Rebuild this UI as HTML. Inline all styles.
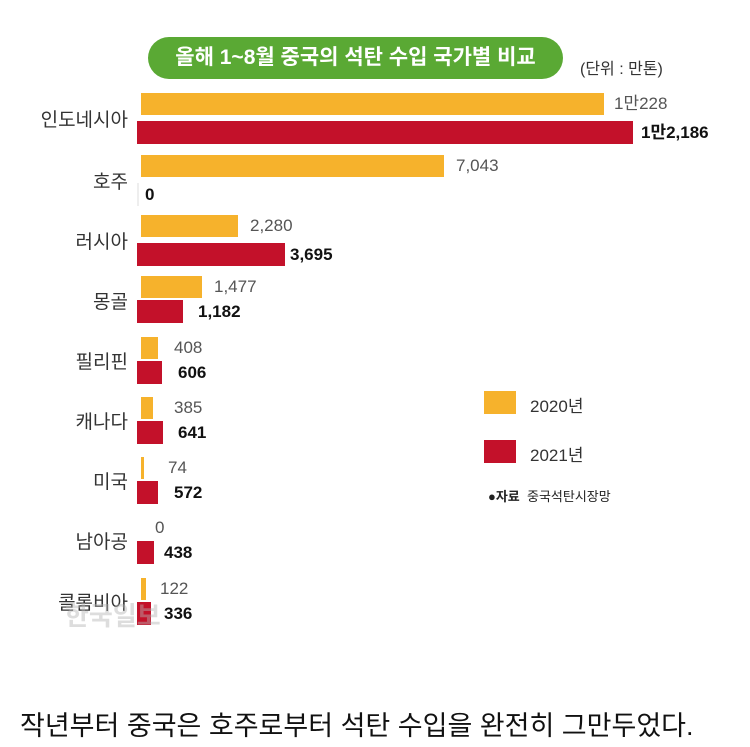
<!DOCTYPE html>
<html><head><meta charset="utf-8"><style>
body{margin:0;width:750px;height:747px;background:#fff;position:relative;overflow:hidden;font-family:"Liberation Sans","Noto Sans CJK KR",sans-serif}
.a{position:absolute;white-space:nowrap}
.o{position:absolute;background:#f6b22c;height:22px;left:141px}
.r{position:absolute;background:#c3112a;height:23px;left:137px}
.lo{position:absolute;color:#555;font-size:17px;line-height:22px}
.lr{position:absolute;color:#111;font-size:17px;font-weight:bold;line-height:23px}
.c{position:absolute;right:622px;font-size:19px;color:#333;text-align:right;white-space:nowrap}
</style></head><body>
<div class="a" style="left:148px;top:37px;width:415px;height:42px;border-radius:21px;background:#5aa934;color:#fff;font-weight:bold;font-size:21px;line-height:42px;text-align:center">올해 1~8월 중국의 석탄 수입 국가별 비교</div>
<div class="a" style="left:580px;top:55px;font-size:16px;color:#333">(단위 : 만톤)</div>

<div class="o" style="top:93px;width:463px"></div><div class="lo" style="left:614px;top:93px">1만228</div>
<div class="r" style="top:121px;width:496px"></div><div class="lr" style="left:641px;top:121px">1만2,186</div>
<div class="c" style="top:105px">인도네시아</div>

<div class="o" style="top:155px;width:303px"></div><div class="lo" style="left:456px;top:155px">7,043</div>
<div class="lr" style="left:145px;top:183px">0</div>
<div class="r" style="top:183px;width:2px;background:#eee"></div>
<div class="c" style="top:167px">호주</div>

<div class="o" style="top:215px;width:97px"></div><div class="lo" style="left:250px;top:215px">2,280</div>
<div class="r" style="top:243px;width:148px"></div><div class="lr" style="left:290px;top:243px">3,695</div>
<div class="c" style="top:227px">러시아</div>

<div class="o" style="top:276px;width:61px"></div><div class="lo" style="left:214px;top:276px">1,477</div>
<div class="r" style="top:300px;width:46px"></div><div class="lr" style="left:198px;top:300px">1,182</div>
<div class="c" style="top:287px">몽골</div>

<div class="o" style="top:337px;width:17px"></div><div class="lo" style="left:174px;top:337px">408</div>
<div class="r" style="top:361px;width:25px"></div><div class="lr" style="left:178px;top:361px">606</div>
<div class="c" style="top:347px">필리핀</div>

<div class="o" style="top:397px;width:12px"></div><div class="lo" style="left:174px;top:397px">385</div>
<div class="r" style="top:421px;width:26px"></div><div class="lr" style="left:178px;top:421px">641</div>
<div class="c" style="top:407px">캐나다</div>

<div class="o" style="top:457px;width:3px"></div><div class="lo" style="left:168px;top:457px">74</div>
<div class="r" style="top:481px;width:21px"></div><div class="lr" style="left:174px;top:481px">572</div>
<div class="c" style="top:467px">미국</div>

<div class="lo" style="left:155px;top:517px">0</div>
<div class="r" style="top:541px;width:17px"></div><div class="lr" style="left:164px;top:541px">438</div>
<div class="c" style="top:527px">남아공</div>

<div class="o" style="top:578px;width:5px"></div><div class="lo" style="left:160px;top:578px">122</div>
<div class="r" style="top:602px;width:14px"></div><div class="lr" style="left:164px;top:602px">336</div>
<div class="c" style="top:588px">콜롬비아</div>

<div class="a" style="left:65px;top:596px;font-size:26px;font-weight:bold;color:rgba(180,180,180,0.45)">한국일보</div>

<div class="a" style="left:484px;top:391px;width:32px;height:23px;background:#f6b22c"></div>
<div class="a" style="left:530px;top:392px;font-size:17px;color:#333">2020년</div>
<div class="a" style="left:484px;top:440px;width:32px;height:23px;background:#c3112a"></div>
<div class="a" style="left:530px;top:441px;font-size:17px;color:#333">2021년</div>
<div class="a" style="left:488px;top:486px;font-size:13px;color:#222"><b>●자료</b>&nbsp; 중국석탄시장망</div>

<div class="a" style="left:20px;top:704px;font-size:27px;color:#111">작년부터 중국은 호주로부터 석탄 수입을 완전히 그만두었다.</div>
</body></html>
